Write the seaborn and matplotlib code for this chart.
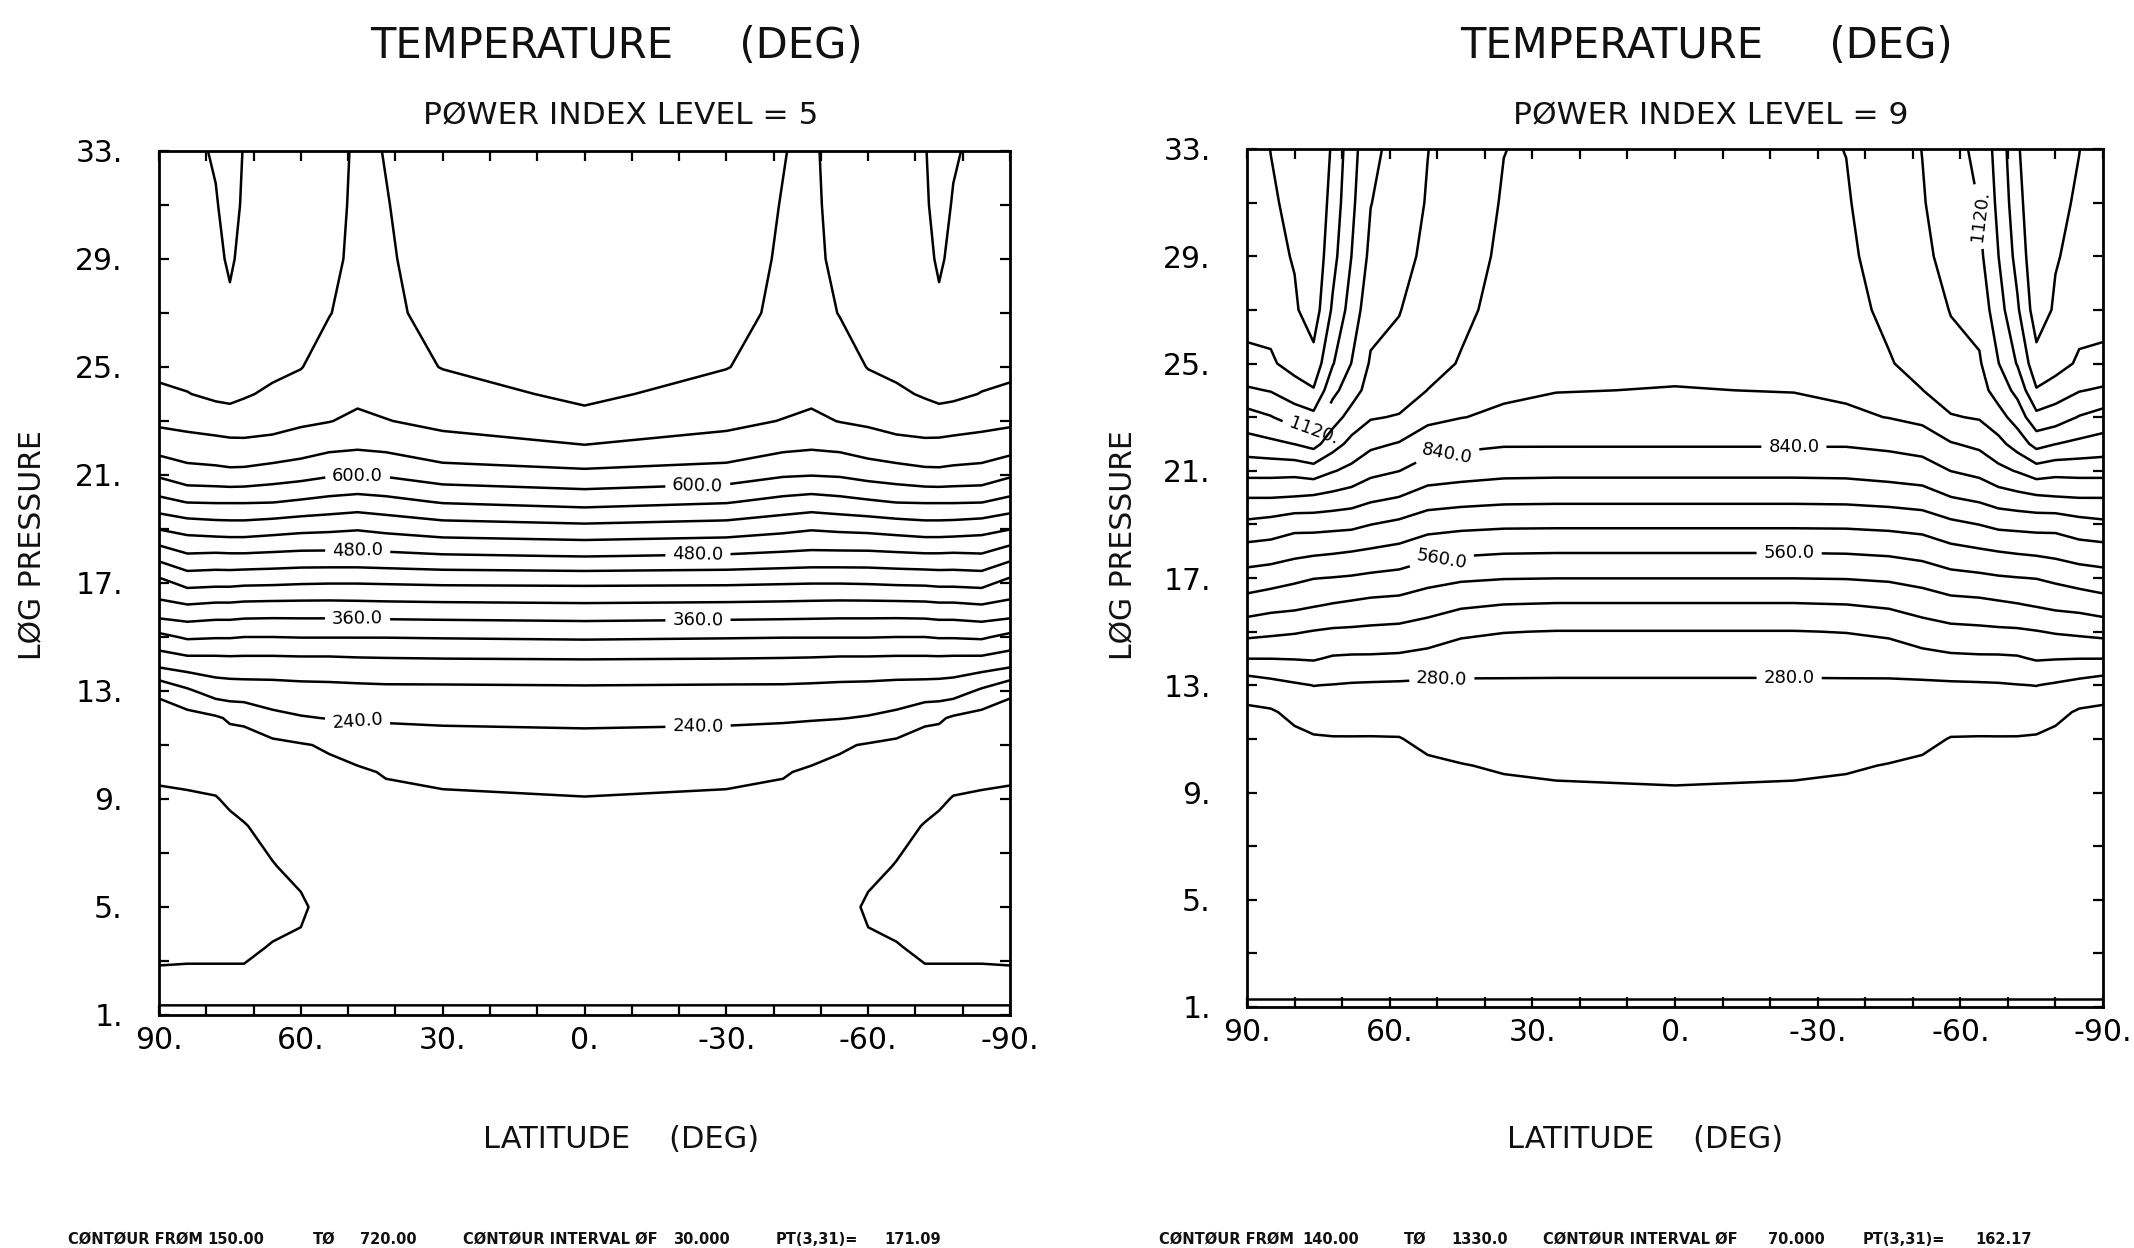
import numpy as np
import matplotlib
matplotlib.use("Agg")
import matplotlib.pyplot as plt
import seaborn as sns

# ---------------- data ----------------
# log-pressure levels of the grid rows
y_levels = [1, 1.5, 2.5, 3.5, 5, 6.5, 8, 9, 10, 11, 12, 13, 14, 15, 16, 17, 18,
            19, 20, 21, 22, 23, 24, 25, 27, 29, 31, 33]

# ---- left panel: power index level 5, half field (pole -> equator), mirrored
p5_lats = [90, 84, 78, 75, 72, 66, 60, 54, 48, 42, 30, 0]
p5_lat90 = [175, 182, 182, 176, 171, 170, 172, 177, 183, 189, 197, 215, 278, 322, 377, 410, 460, 511, 561, 604, 640, 666, 684, 698, 704, 706, 707, 708]
p5_lat84 = [175, 182, 182, 177, 171, 170, 173, 178, 184, 191, 199, 235, 285, 334, 380, 429, 476, 520, 571, 618, 645, 670, 689, 700, 706, 709, 711, 712]
p5_lat78 = [175, 182, 182, 177, 170, 170, 174, 179, 187, 194, 206, 254, 286, 332, 376, 427, 474, 524, 572, 620, 648, 674, 696, 704, 711, 715, 718, 723]
p5_lat75 = [175, 182, 182, 177, 170, 171, 176, 183, 190, 196, 214, 256, 287, 332, 376, 427, 475, 525, 572, 622, 650, 676, 698, 708, 716, 723, 730, 735]
p5_lat72 = [175, 182, 182, 177, 171, 173, 179, 186, 192, 197, 216, 257, 287, 330, 374, 425, 475, 525, 572, 621, 651, 675, 693, 702, 710, 714, 716, 718]
p5_lat66 = [175, 182, 184, 181, 174, 179, 186, 190, 195, 203, 232, 258, 287, 330, 373, 424, 473, 521, 571, 615, 649, 671, 685, 697, 708, 713, 716, 717]
p5_lat60 = [175, 182, 184, 183, 177, 185, 191, 195, 200, 208, 238, 260, 288, 331, 373, 422, 471, 517, 566, 610, 643, 665, 679, 691, 700, 706, 710, 712]
p5_lat54 = [175, 182, 184, 186, 188, 191, 195, 198, 204, 213, 241, 261, 288, 331, 373, 421, 471, 515, 561, 603, 635, 661, 670, 678, 691, 698, 702, 705]
p5_lat48 = [175, 182, 185, 187, 189, 192, 195, 199, 206, 223, 242, 262, 290, 331, 374, 421, 471, 512, 557, 601, 632, 654, 667, 675, 680, 682, 683, 684]
p5_lat42 = [175, 182, 185, 187, 190, 194, 199, 204, 212, 227, 243, 263, 291, 331, 375, 422, 473, 517, 561, 603, 635, 659, 670, 678, 685, 687, 689, 691]
p5_lat30 = [175, 182, 186, 188, 192, 196, 201, 206, 217, 230, 244, 263, 292, 332, 376, 424, 477, 525, 572, 615, 648, 667, 679, 691, 698, 702, 703, 704]
p5_lat0 = [175, 182, 186, 189, 193, 198, 203, 209, 220, 232, 245, 264, 293, 334, 378, 425, 481, 530, 580, 622, 657, 682, 696, 702, 707, 710, 712, 713]
p5_levels = list(range(150, 721, 30))
p5_label_levels = [240, 360, 480, 600]
p5_label_pos = [(48, 11.9), (-24, 11.8), (48, 15.6), (-24, 15.6),
                (48, 18.1), (-24, 18.0), (48, 20.9), (-24, 20.4)]

# ---- right panel: power index level 9
p9_lats = [90, 85, 80, 76, 72, 68, 64, 58, 52, 45, 36, 25, 0]
p9_lat90 = [135, 143, 145, 147, 150, 155, 163, 170, 178, 187, 199, 240, 351, 443, 529, 602, 673, 754, 841, 935, 1022, 1091, 1180, 1250, 1275, 1288, 1296, 1300]
p9_lat85 = [135, 143, 146, 148, 151, 157, 166, 174, 183, 193, 203, 257, 351, 434, 514, 591, 667, 743, 841, 935, 1034, 1116, 1194, 1249, 1290, 1310, 1322, 1331]
p9_lat80 = [135, 143, 146, 149, 153, 160, 170, 178, 188, 195, 226, 272, 353, 426, 507, 574, 652, 723, 836, 933, 1051, 1156, 1225, 1290, 1320, 1335, 1345, 1350]
p9_lat76 = [135, 143, 146, 149, 154, 162, 172, 181, 190, 203, 245, 281, 356, 417, 496, 562, 644, 725, 829, 947, 1074, 1170, 1255, 1305, 1368, 1385, 1395, 1400]
p9_lat72 = [135, 143, 146, 150, 155, 163, 174, 184, 195, 207, 238, 278, 343, 410, 486, 558, 638, 721, 818, 915, 1010, 1080, 1140, 1195, 1250, 1283, 1303, 1320]
p9_lat68 = [135, 143, 147, 151, 156, 164, 175, 186, 197, 207, 239, 274, 340, 408, 478, 553, 631, 717, 806, 892, 959, 1024, 1080, 1118, 1160, 1189, 1205, 1215]
p9_lat64 = [135, 143, 147, 152, 157, 165, 176, 186, 197, 207, 237, 272, 340, 405, 470, 545, 622, 701, 785, 860, 925, 986, 1022, 1042, 1075, 1103, 1122, 1140]
p9_lat58 = [135, 143, 147, 151, 157, 165, 176, 186, 197, 208, 235, 270, 337, 401, 465, 537, 609, 684, 768, 841, 905, 975, 1015, 1035, 1052, 1068, 1080, 1090]
p9_lat52 = [135, 143, 148, 153, 160, 168, 180, 190, 202, 222, 246, 268, 327, 388, 449, 514, 587, 656, 739, 808, 869, 928, 979, 1005, 1025, 1038, 1046, 1051]
p9_lat45 = [135, 143, 149, 154, 161, 170, 182, 194, 208, 230, 248, 268, 315, 362, 430, 500, 574, 648, 728, 800, 855, 912, 950, 975, 995, 1008, 1016, 1020]
p9_lat36 = [135, 143, 149, 155, 163, 173, 186, 199, 215, 235, 250, 269, 311, 352, 419, 493, 567, 642, 720, 790, 846, 898, 922, 938, 958, 968, 975, 981]
p9_lat25 = [135, 143, 150, 156, 165, 176, 190, 202, 220, 240, 252, 269, 309, 348, 415, 491, 565, 641, 718, 788, 846, 878, 913, 932, 950, 958, 963, 966]
p9_lat0 = [135, 143, 150, 156, 165, 176, 190, 205, 224, 240, 252, 269, 309, 348, 415, 491, 565, 641, 718, 788, 846, 876, 907, 927, 945, 953, 958, 960]
p9_levels = list(range(140, 1331, 70))
p9_label_levels = [280, 560, 840, 1120]
p9_label_pos = [(49, 13.1), (-24, 13.3), (49, 17.6), (-24, 17.9),
                (48, 21.7), (-25, 21.8), (76, 22.4), (-58, 30.4)]

# tick labels
x_ticks = [90, 60, 30, 0, -30, -60, -90]
x_ticklabels = ["90.", "60.", "30.", "0.", "-30.", "-60.", "-90."]
y_ticks = [1, 5, 9, 13, 17, 21, 25, 29, 33]
y_ticklabels = ["1.", "5.", "9.", "13.", "17.", "21.", "25.", "29.", "33."]

titles = ["TEMPERATURE     (DEG)", "TEMPERATURE     (DEG)"]
subtitles = ["PØWER INDEX LEVEL = 5", "PØWER INDEX LEVEL = 9"]
footer_left = ["CØNTØUR FRØM", "150.00", "TØ", "720.00", "CØNTØUR INTERVAL ØF",
               "30.000", "PT(3,31)=", "171.09"]
footer_right = ["CØNTØUR FRØM", "140.00", "TØ", "1330.0", "CØNTØUR INTERVAL ØF",
                "70.000", "PT(3,31)=", "162.17"]
footer_left_x = [68, 207, 313, 360, 463, 673, 776, 884]
footer_right_x = [1159, 1302, 1404, 1451, 1543, 1768, 1863, 1975]

# ---------------- drawing ----------------
sns.set_theme(style="ticks")
plt.rcParams["font.family"] = ["DejaVu Sans"]

W, H = 2134, 1248
fig = plt.figure(figsize=(W / 100, H / 100), dpi=100)
fig.patch.set_facecolor("white")


def px(x, y):
    return x / W, 1 - y / H


def build(lats_half, cols):
    half = np.array(cols, dtype=float).T          # rows: y levels, cols: lats 90 -> 0
    full = np.hstack([half, half[:, -2::-1]])     # mirror to southern hemisphere
    lat_full = list(lats_half) + [-v for v in lats_half[-2::-1]]
    return np.array(lat_full[::-1], dtype=float), full[:, ::-1]


def fmt(v):
    return f"{v:.1f}" if v < 1000 else f"{int(round(v))}."


def draw(rect, lats_half, cols, levels, lab_levels, lab_pos):
    ax = fig.add_axes(rect)
    lat, field = build(lats_half, cols)
    plain = [lv for lv in levels if lv not in lab_levels]
    ax.contour(lat, y_levels, field, levels=plain, colors="black",
               linewidths=1.8)
    cs = ax.contour(lat, y_levels, field, levels=lab_levels, colors="black",
                    linewidths=1.8)
    ax.clabel(cs, manual=lab_pos, fmt=fmt, inline=True,
              inline_spacing=7, fontsize=13, colors="black")
    ax.set_xlim(90, -90)
    ax.set_ylim(1, 33)
    ax.set_xticks(x_ticks)
    ax.set_xticklabels(x_ticklabels)
    ax.set_xticks(list(range(-90, 91, 10)), minor=True)
    ax.set_yticks(y_ticks)
    ax.set_yticklabels(y_ticklabels)
    ax.set_yticks(list(range(3, 33, 4)), minor=True)
    ax.tick_params(which="both", direction="in", length=7, width=1.6,
                   top=True, right=True, colors="black")
    ax.tick_params(axis="x", which="major", labelsize=21.5, pad=8)
    ax.tick_params(axis="y", which="major", labelsize=21.5, pad=26)
    for s in ax.spines.values():
        s.set_linewidth(2.0)
        s.set_color("black")
    ax.set_facecolor("white")
    return ax


ax1 = draw([159 / W, 1 - 1015 / H, 851 / W, 864 / H], p5_lats,
           [p5_lat90, p5_lat84, p5_lat78, p5_lat75, p5_lat72, p5_lat66, p5_lat60,
            p5_lat54, p5_lat48, p5_lat42, p5_lat30, p5_lat0],
           p5_levels, p5_label_levels, p5_label_pos)
ax2 = draw([1247 / W, 1 - 1007 / H, 856 / W, 858 / H], p9_lats,
           [p9_lat90, p9_lat85, p9_lat80, p9_lat76, p9_lat72, p9_lat68, p9_lat64,
            p9_lat58, p9_lat52, p9_lat45, p9_lat36, p9_lat25, p9_lat0],
           p9_levels, p9_label_levels, p9_label_pos)

# titles and labels
for cx, cy, t in [(616, 46, titles[0]), (1706, 46, titles[1])]:
    fig.text(*px(cx, cy), t, ha="center", va="center", fontsize=30, color="#111")
for cx, cy, t in [(621, 116, subtitles[0]), (1711, 116, subtitles[1])]:
    fig.text(*px(cx, cy), t, ha="center", va="center", fontsize=22.5, color="#111")
for cx in (621, 1645):
    fig.text(*px(cx, 1140), "LATITUDE    (DEG)", ha="center", va="center",
             fontsize=22, color="#111")
for cx in (33, 1124):
    fig.text(*px(cx, 545), "LØG PRESSURE", ha="center", va="center",
             rotation=90, fontsize=21.5, color="#111")
for xs, ts in [(footer_left_x, footer_left), (footer_right_x, footer_right)]:
    for x0, t in zip(xs, ts):
        fig.text(*px(x0, 1239), t, ha="left", va="center", fontsize=10.5,
                 fontweight="bold", color="#111")

fig.savefig("out.png", dpi=100, facecolor="white")
